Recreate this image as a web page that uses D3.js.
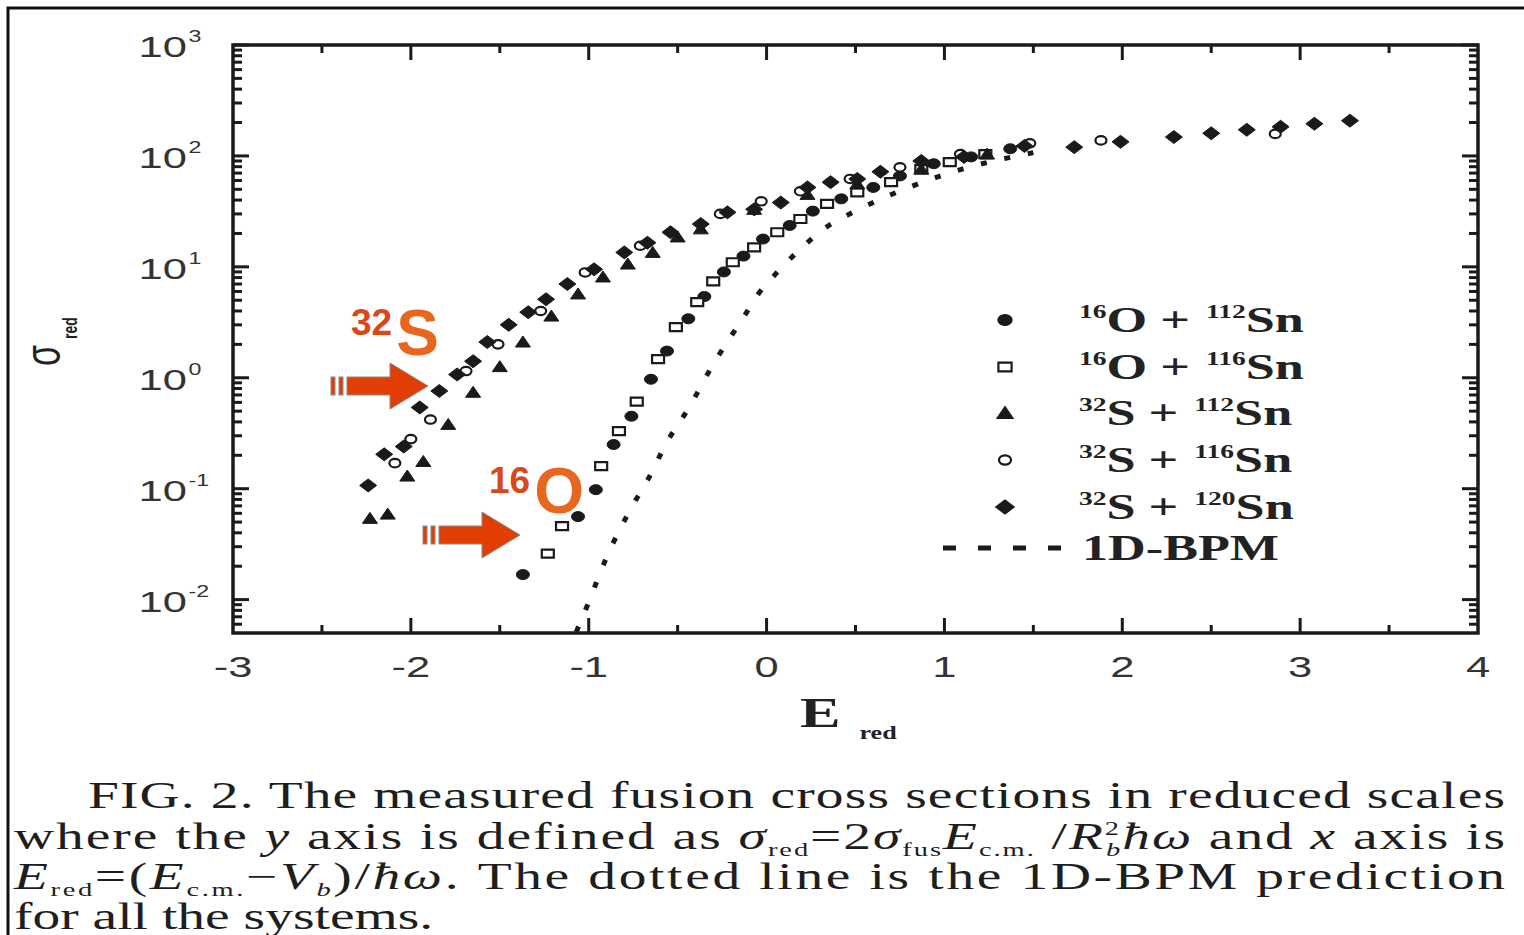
<!DOCTYPE html>
<html>
<head>
<meta charset="utf-8">
<script src="https://cdn.jsdelivr.net/npm/d3@7"></script>
<style>
body { margin: 0; background: #fff; }
svg { display: block; }
</style>
</head>
<body>
<div id="chart"></div>
<script>
//////////////////////////////////////////////////////////////////////////////
// Data (E_red, sigma_red)

var o112E   = [-1.37, -1.06, -0.96, -0.86, -0.76, -0.65, -0.56, -0.44, -0.35, -0.24, -0.13, -0.02, 0.13, 0.26, 0.42, 0.60, 0.75, 0.94, 1.15, 1.37];
var o112Sig = [0.0168, 0.056, 0.098, 0.25, 0.45, 0.97, 1.74, 3.4, 5.4, 9.0, 12.5, 17.8, 23.6, 31.8, 41, 52, 66, 85, 98, 116];

var o116E   = [-1.23, -1.15, -0.93, -0.83, -0.73, -0.61, -0.51, -0.39, -0.30, -0.19, -0.07, 0.06, 0.19, 0.34, 0.51, 0.70, 0.87, 1.03, 1.23];
var o116Sig = [0.026, 0.046, 0.16, 0.33, 0.61, 1.47, 2.86, 4.8, 7.4, 11, 15, 20.5, 27, 37, 47, 58, 76, 88, 104];

var s112E   = [-2.23, -2.13, -2.02, -1.93, -1.79, -1.65, -1.50, -1.37, -1.21, -1.06, -0.92, -0.78, -0.64, -0.50, -0.37, -0.07, 0.23, 0.51, 0.87, 1.24];
var s112Sig = [0.054, 0.059, 0.13, 0.176, 0.38, 0.74, 1.26, 2.1, 3.6, 5.7, 8.1, 10.6, 13.5, 18.6, 22, 33, 45, 56, 76, 104];

var s116E   = [-2.09, -2.00, -1.89, -1.69, -1.51, -1.27, -1.02, -0.71, -0.26, -0.03, 0.19, 0.47, 0.75, 1.09, 1.48, 1.88, 2.86];
var s116Sig = [0.17, 0.28, 0.42, 1.15, 2.0, 4.0, 8.9, 15.5, 30, 39, 48, 62, 79, 104, 130, 138, 158];

var s120E   = [-2.24, -2.15, -2.04, -1.95, -1.84, -1.74, -1.65, -1.57, -1.45, -1.34, -1.24, -1.12, -0.97, -0.80, -0.67, -0.54, -0.37, -0.22, -0.07, 0.08, 0.23, 0.36, 0.51, 0.64, 0.87, 1.11, 1.45, 1.73, 1.99, 2.29, 2.50, 2.70, 2.89, 3.08, 3.28];
var s120Sig = [0.107, 0.204, 0.24, 0.54, 0.76, 1.07, 1.41, 2.1, 3.0, 3.9, 5.1, 7.0, 9.5, 13.5, 16.5, 20.5, 24.3, 31, 33, 38, 52, 58, 62, 72, 90, 98, 123, 120, 134, 148, 160, 172, 183, 195, 208];

var bpmE   = [-1.07, -1.00, -0.90, -0.78, -0.64, -0.58, -0.43, -0.29, -0.21, -0.13, -0.05, 0.05, 0.17, 0.32, 0.52, 0.80, 1.10, 1.50];
var bpmSig = [0.0051, 0.0095, 0.024, 0.059, 0.146, 0.23, 0.56, 1.41, 2.24, 3.5, 5.6, 8.6, 13.5, 21.9, 33, 52, 76, 107];

var xTicks = [-3, -2, -1, 0, 1, 2, 3, 4];
var yExponents = [-2, -1, 0, 1, 2, 3];

var legendTargets = ["112", "116", "112", "116", "120"];
var legendProjectiles = ["16", "16", "32", "32", "32"];
var legendProjNames = ["O", "O", "S", "S", "S"];
var legendBpm = "1D-BPM";

//////////////////////////////////////////////////////////////////////////////
// Preliminaries

var width = 1524, height = 935;
var plotLeft = 233, plotRight = 1478, plotTop = 45, plotBottom = 633;
var stretch = 1.45;   // the scanned figure is stretched sideways

var xScale = d3.scaleLinear().domain([-3, 4]).range([plotLeft, plotRight]);
var yScale = d3.scaleLog().domain([0.005, 1000]).range([plotBottom, plotTop]);

var svg = d3.select("#chart").append("svg")
    .attr("width", width)
    .attr("height", height);

svg.append("defs").append("clipPath").attr("id", "plotClip")
    .append("rect").attr("x", plotLeft).attr("y", plotTop)
    .attr("width", plotRight - plotLeft).attr("height", plotBottom - plotTop);

// page border (top and left)
svg.append("path")
    .attr("d", "M8," + height + " L8,8 L" + width + ",8")
    .attr("fill", "none").attr("stroke", "#111").attr("stroke-width", 3);

function stretched(x, y, k) {
    return "translate(" + x + "," + y + ") scale(" + (k || stretch) + ",1)";
}

//////////////////////////////////////////////////////////////////////////////
// Axes and frame

var ink = "#1a1a1a";

function tickLines(vertical, len, side) {
    return function(sel) {
        sel.append("line")
            .attr("x1", function(d) { return vertical ? side.from : xScale(d); })
            .attr("x2", function(d) { return vertical ? side.from + side.dir * len : xScale(d); })
            .attr("y1", function(d) { return vertical ? yScale(d) : side.from; })
            .attr("y2", function(d) { return vertical ? yScale(d) : side.from + side.dir * len; })
            .attr("stroke", ink).attr("stroke-width", 3);
    };
}

var axes = svg.append("g");

var xMinor = d3.range(-2.5, 4, 1);
[{ from: plotBottom, dir: -1 }, { from: plotTop, dir: 1 }].forEach(function(side) {
    axes.append("g").selectAll("g").data(xTicks.slice(1, -1)).enter().append("g")
        .call(tickLines(false, 15, side));
    axes.append("g").selectAll("g").data(xMinor).enter().append("g")
        .call(tickLines(false, 8, side));
});

var yMajor = yExponents.map(function(e) { return Math.pow(10, e); });
var yMinor = [];
[-3, -2, -1, 0, 1, 2].forEach(function(e) {
    d3.range(2, 10).forEach(function(m) {
        var v = m * Math.pow(10, e);
        if (v > 0.005 && v < 1000) yMinor.push(v);
    });
});
[{ from: plotLeft, dir: 1 }, { from: plotRight, dir: -1 }].forEach(function(side) {
    axes.append("g").selectAll("g").data(yMajor).enter().append("g")
        .call(tickLines(true, 16, side));
    axes.append("g").selectAll("g").data(yMinor).enter().append("g")
        .call(tickLines(true, 9, side));
});

axes.append("rect")
    .attr("x", plotLeft).attr("y", plotTop)
    .attr("width", plotRight - plotLeft).attr("height", plotBottom - plotTop)
    .attr("fill", "none").attr("stroke", ink).attr("stroke-width", 3.5);

// x tick labels
axes.append("g").selectAll("text").data(xTicks).enter().append("text")
    .attr("transform", function(d) { return stretched(xScale(d), 677); })
    .attr("text-anchor", "middle")
    .attr("font-family", "'Liberation Sans', Arial, sans-serif")
    .attr("font-size", 30)
    .attr("fill", "#333")
    .text(function(d) { return d; });

// y tick labels
var yLab = axes.append("g").selectAll("g").data(yExponents).enter().append("g")
    .attr("transform", function(d) { return stretched(187, yScale(Math.pow(10, d)) + 12); });
yLab.append("text")
    .attr("text-anchor", "end")
    .attr("font-family", "'Liberation Sans', Arial, sans-serif")
    .attr("font-size", 30)
    .attr("fill", "#333")
    .text("10");
yLab.append("text")
    .attr("x", 1)
    .attr("y", -15)
    .attr("font-family", "'Liberation Sans', Arial, sans-serif")
    .attr("font-size", 16)
    .attr("fill", "#333")
    .text(function(d) { return d; });

// axis titles
var yTitle = svg.append("text")
    .attr("transform", "translate(60,366) scale(" + stretch + ",1) rotate(-90)")
    .attr("font-family", "'Liberation Sans', Arial, sans-serif")
    .attr("fill", "#222");
yTitle.append("tspan").attr("font-size", 34).text("σ");
yTitle.append("tspan").attr("font-size", 14).attr("font-weight", "bold")
    .attr("dx", 6).attr("dy", 12).text("red");

var xTitle = svg.append("text")
    .attr("transform", stretched(800, 727))
    .attr("font-family", "'Liberation Serif', 'Times New Roman', serif")
    .attr("font-weight", "bold")
    .attr("fill", "#222");
xTitle.append("tspan").attr("font-size", 42).text("E");
xTitle.append("tspan").attr("font-size", 18).attr("dx", 13).attr("dy", 12).text("red");

//////////////////////////////////////////////////////////////////////////////
// Markers

function markerPath(kind) {
    if (kind === "circle") return "M-6.5,0 A6.5,5 0 1,0 6.5,0 A6.5,5 0 1,0 -6.5,0 Z";
    if (kind === "square") return "M-6,-4 L6,-4 L6,4 L-6,4 Z";
    if (kind === "triangle") return "M0,-6 L7.5,5 L-7.5,5 Z";
    if (kind === "ocircle") return "M-5.5,0 A5.5,4.2 0 1,0 5.5,0 A5.5,4.2 0 1,0 -5.5,0 Z";
    return "M-8.5,0 L0,-6.5 L8.5,0 L0,6.5 Z";
}

function isOpen(kind) { return kind === "square" || kind === "ocircle"; }

var series = [
    { kind: "circle",   E: o112E, S: o112Sig },
    { kind: "square",   E: o116E, S: o116Sig },
    { kind: "triangle", E: s112E, S: s112Sig },
    { kind: "ocircle",  E: s116E, S: s116Sig },
    { kind: "diamond",  E: s120E, S: s120Sig }
];

var plot = svg.append("g").attr("clip-path", "url(#plotClip)");

// 1D-BPM dotted curve
var bpmPts = bpmE.map(function(e, i) { return [e, bpmSig[i]]; });
plot.append("path")
    .datum(bpmPts)
    .attr("d", d3.line()
        .x(function(d) { return xScale(d[0]); })
        .y(function(d) { return yScale(d[1]); })
        .curve(d3.curveMonotoneX))
    .attr("fill", "none")
    .attr("stroke", ink)
    .attr("stroke-width", 5)
    .attr("stroke-dasharray", "6,18");

series.forEach(function(s) {
    var pts = s.E.map(function(e, i) { return [e, s.S[i]]; });
    plot.append("g").selectAll("path").data(pts).enter().append("path")
        .attr("transform", function(d) {
            return "translate(" + xScale(d[0]) + "," + yScale(d[1]) + ")";
        })
        .attr("d", markerPath(s.kind))
        .attr("fill", isOpen(s.kind) ? "#fff" : ink)
        .attr("stroke", ink)
        .attr("stroke-width", isOpen(s.kind) ? 2.2 : 1);
});

//////////////////////////////////////////////////////////////////////////////
// Legend

var legend = svg.append("g");
var legendRowY = [320, 367, 413, 460, 507];
var serif = "'Liberation Serif', 'Times New Roman', serif";

series.forEach(function(s, i) {
    legend.append("path")
        .attr("transform", "translate(1005," + legendRowY[i] + ") scale(1.1)")
        .attr("d", markerPath(s.kind))
        .attr("fill", isOpen(s.kind) ? "#fff" : ink)
        .attr("stroke", ink)
        .attr("stroke-width", isOpen(s.kind) ? 2 : 1);

    var t = legend.append("text")
        .attr("transform", stretched(1079, legendRowY[i] + 12))
        .attr("font-family", serif)
        .attr("font-weight", "bold")
        .attr("font-size", 36)
        .attr("fill", "#222");
    t.append("tspan").attr("font-size", 19).attr("dy", -14).text(legendProjectiles[i]);
    t.append("tspan").attr("dy", 14).text(legendProjNames[i]);
    t.append("tspan").attr("dx", 9).text("+");
    t.append("tspan").attr("font-size", 19).attr("dx", 11).attr("dy", -14).text(legendTargets[i]);
    t.append("tspan").attr("dy", 14).text("Sn");
});

legend.append("line")
    .attr("x1", 943).attr("x2", 1064).attr("y1", 548).attr("y2", 548)
    .attr("stroke", ink).attr("stroke-width", 5)
    .attr("stroke-dasharray", "13,22");
legend.append("text")
    .attr("transform", stretched(1082, 560))
    .attr("font-family", serif)
    .attr("font-weight", "bold")
    .attr("font-size", 36)
    .attr("fill", "#222")
    .text(legendBpm);

//////////////////////////////////////////////////////////////////////////////
// Orange annotations

function arrow(x0, yc) {
    var g = svg.append("g").attr("fill", "#e23d02").attr("stroke", "#8a8a8a").attr("stroke-width", 1);
    g.append("rect").attr("x", x0).attr("y", yc - 9).attr("width", 4).attr("height", 18);
    g.append("rect").attr("x", x0 + 8).attr("y", yc - 9).attr("width", 4).attr("height", 18);
    g.append("path").attr("d",
        "M" + (x0 + 16) + "," + (yc - 9) + " L" + (x0 + 59) + "," + (yc - 9) +
        " L" + (x0 + 59) + "," + (yc - 23) + " L" + (x0 + 97) + "," + yc +
        " L" + (x0 + 59) + "," + (yc + 23) + " L" + (x0 + 59) + "," + (yc + 9) +
        " L" + (x0 + 16) + "," + (yc + 9) + " Z");
}

function isotopeLabel(x, y, mass, sym) {
    var t = svg.append("text")
        .attr("x", x).attr("y", y)
        .attr("font-family", "'Liberation Sans', Arial, sans-serif")
        .attr("font-weight", "bold");
    t.append("tspan").attr("font-size", 37).attr("fill", "#d9471a").attr("dy", -20).text(mass);
    t.append("tspan").attr("font-size", 64).attr("fill", "#e8661e").attr("dx", 4).attr("dy", 20).text(sym);
}

arrow(331, 386);
arrow(423, 535);
isotopeLabel(351, 355, "32", "S");
isotopeLabel(489, 513, "16", "O");

//////////////////////////////////////////////////////////////////////////////
// Caption

var captionLines = [
    { x: 88, y: 808, w: 1417, parts: [["FIG. 2. The measured fusion cross sections in reduced scales", "n"]] },
    { x: 14, y: 849, w: 1491, parts: [
        ["where the ", "n"], ["y", "i"], [" axis is defined as ", "n"], ["σ", "i"], ["red", "sub"],
        ["=2", "n"], ["σ", "i"], ["fus", "sub"], ["E", "i"], ["c.m.", "sub"], [" /", "n"], ["R", "i"],
        ["2", "sup"], ["b", "under"], ["ħω", "i"], [" and ", "n"], ["x", "i"], [" axis is", "n"]] },
    { x: 14, y: 889, w: 1491, parts: [
        ["E", "i"], ["red", "sub"], ["=(", "n"], ["E", "i"], ["c.m.", "sub"], ["−", "n"], ["V", "i"],
        ["b", "subi"], [")/", "n"], ["ħω", "i"], [". The dotted line is the 1D-BPM prediction", "n"]] },
    { x: 14, y: 929, w: 0, parts: [["for all the systems.", "n"]] }
];
var captionStretch = 1.5;

captionLines.forEach(function(line) {
    var t = svg.append("text")
        .attr("transform", stretched(line.x, line.y, captionStretch))
        .attr("font-family", serif)
        .attr("font-size", 37)
        .attr("fill", "#1e1e1e");
    var shift = 0;
    line.parts.forEach(function(p) {
        var ts = t.append("tspan").text(p[0]);
        var target = 0;
        if (p[1] === "i") ts.attr("font-style", "italic");
        if (p[1] === "sub" || p[1] === "subi" || p[1] === "under") {
            ts.attr("font-size", 19);
            target = 7;
            if (p[1] !== "sub") ts.attr("font-style", "italic");
            if (p[1] === "under") ts.attr("dx", -10);
        }
        if (p[1] === "sup") { ts.attr("font-size", 19); target = -14; }
        ts.attr("dy", target - shift);
        shift = target;
    });
    if (line.w) t.attr("textLength", line.w / captionStretch).attr("lengthAdjust", "spacing");
});
</script>
</body>
</html>
